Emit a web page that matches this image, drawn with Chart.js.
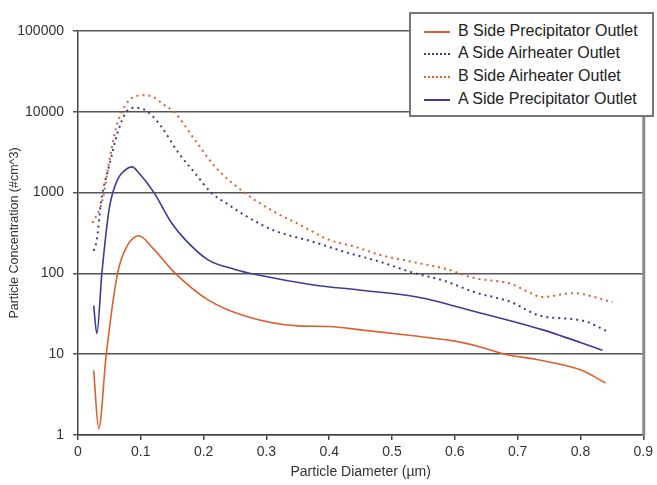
<!DOCTYPE html>
<html>
<head>
<meta charset="utf-8">
<script src="https://cdn.jsdelivr.net/npm/chart.js@4.4.1/dist/chart.umd.min.js"></script>
<style>
  html, body { margin: 0; padding: 0; background: #fff; }
  #wrap { position: relative; width: 657px; height: 485px; }
  #legend { position: absolute; left: 409px; top: 12px; width: 241px; height: 101px; border: 2px solid #777; background: #fff; font-family: "Liberation Sans", Arial, sans-serif; font-size: 16px; color: #222; box-sizing: content-box; }
  .row { position: absolute; left: 0; height: 20px; line-height: 20px; white-space: nowrap; }
  .sample { position: absolute; left: 13px; top: 10px; width: 26px; height: 0; }
  .label { position: absolute; left: 47px; top: 0; }
</style>
</head>
<body>
<div id="wrap">
  <canvas id="c" width="657" height="485"></canvas>
  <div id="legend"></div>
</div>
<script>
// ---- data ----
const seriesNames = ["B Side Precipitator Outlet", "A Side Airheater Outlet", "B Side Airheater Outlet", "A Side Precipitator Outlet"];

const bPrecipX = [0.025, 0.033, 0.045, 0.063, 0.077, 0.097, 0.118, 0.155, 0.207, 0.27, 0.35, 0.40, 0.45, 0.53, 0.60, 0.635, 0.68, 0.73, 0.80, 0.84];
const bPrecipY = [6.3, 1.2, 10, 100, 210, 292, 210, 100, 47, 29, 22.4, 22, 20, 17, 14.5, 12.6, 10, 8.6, 6.4, 4.4];

const aAirX = [0.025, 0.03, 0.037, 0.05, 0.063, 0.077, 0.09, 0.105, 0.12, 0.133, 0.16, 0.186, 0.212, 0.238, 0.28, 0.312, 0.375, 0.426, 0.48, 0.53, 0.585, 0.63, 0.69, 0.735, 0.804, 0.846];
const aAirY = [190, 260, 800, 2200, 5500, 10000, 11200, 10700, 8600, 6500, 3100, 1750, 1000, 720, 450, 340, 245, 183, 140, 104, 80, 59, 44, 30, 26, 18.6];

const bAirX = [0.023, 0.039, 0.05, 0.061, 0.07, 0.082, 0.102, 0.118, 0.135, 0.155, 0.186, 0.218, 0.265, 0.312, 0.348, 0.40, 0.44, 0.48, 0.53, 0.585, 0.63, 0.69, 0.715, 0.74, 0.788, 0.851];
const bAirY = [420, 810, 2500, 6500, 10000, 14000, 16000, 15500, 12500, 9600, 4500, 2100, 1000, 580, 420, 260, 215, 170, 140, 114, 88, 74, 60, 51, 57, 44];

const aPrecipX = [0.025, 0.03, 0.038, 0.05, 0.063, 0.075, 0.086, 0.097, 0.121, 0.149, 0.171, 0.207, 0.25, 0.285, 0.375, 0.45, 0.54, 0.63, 0.74, 0.835];
const aPrecipY = [40, 18, 100, 650, 1450, 1900, 2080, 1750, 1000, 420, 260, 147, 112, 96, 72, 62, 51, 34, 20, 11.2];

const xTicks = [0, 0.1, 0.2, 0.3, 0.4, 0.5, 0.6, 0.7, 0.8, 0.9];
const yTicks = [1, 10, 100, 1000, 10000, 100000];

// ---- style ----
const ORANGE = "#dc5f2e";
const NAVY = "#3c3c98";
const FONT = "'Liberation Sans', Arial, sans-serif";

function pts(xs, ys) { return xs.map((x, i) => ({ x: x, y: ys[i] })); }

const datasets = [
  { label: seriesNames[0], data: pts(bPrecipX, bPrecipY), borderColor: ORANGE, borderWidth: 1.6, borderDash: [] },
  { label: seriesNames[1], data: pts(aAirX, aAirY), borderColor: NAVY, borderWidth: 2, borderDash: [2, 4] },
  { label: seriesNames[2], data: pts(bAirX, bAirY), borderColor: ORANGE, borderWidth: 2, borderDash: [2, 4] },
  { label: seriesNames[3], data: pts(aPrecipX, aPrecipY), borderColor: NAVY, borderWidth: 1.6, borderDash: [] }
].map(d => Object.assign(d, { pointRadius: 0, tension: 0.4, cubicInterpolationMode: "monotone", fill: false }));

const frame = {
  id: "frame",
  afterDraw(chart) {
    const a = chart.chartArea, c = chart.ctx;
    c.save();
    c.strokeStyle = "#8a8a8a";
    c.lineWidth = 3;
    c.beginPath(); c.moveTo(a.right + 0.5, a.top - 1); c.lineTo(a.right + 0.5, a.bottom + 1); c.stroke();
    c.restore();
  }
};

new Chart(document.getElementById("c"), {
  type: "line",
  data: { datasets: datasets },
  options: {
    responsive: false,
    animation: false,
    layout: { padding: { top: 31, right: 5, left: 0, bottom: 0 } },
    plugins: { legend: { display: false }, tooltip: { enabled: false } },
    scales: {
      x: {
        type: "linear", min: 0, max: 0.9,
        afterBuildTicks: s => { s.ticks = xTicks.map(v => ({ value: v })); },
        afterFit: s => { s.height = 50; },
        ticks: { font: { family: FONT, size: 14 }, color: "#333", padding: 4, maxRotation: 0, callback: v => String(Math.round(v * 10) / 10) },
        grid: { drawOnChartArea: false, drawTicks: true, tickLength: 5, color: "#444", lineWidth: 1.5 },
        border: { color: "#444", width: 1.5 },
        title: { display: true, text: "Particle Diameter (\u00b5m)", font: { family: FONT, size: 14 }, color: "#333", padding: { top: 0, bottom: 4 } }
      },
      y: {
        type: "logarithmic", min: 1, max: 100000,
        afterBuildTicks: s => { s.ticks = yTicks.map(v => ({ value: v })); },
        afterFit: s => { s.width = 78; },
        ticks: { font: { family: FONT, size: 14 }, color: "#333", padding: 9, callback: v => String(v) },
        grid: { color: "#555", lineWidth: 1.5, drawTicks: true, tickLength: 5 },
        border: { color: "#444", width: 1.5 },
        title: { display: true, text: "Particle Concentration (#cm^3)", font: { family: FONT, size: 12.5 }, color: "#333", padding: { top: 7, bottom: 0 } }
      }
    }
  },
  plugins: [frame]
});

// HTML legend
const legend = document.getElementById("legend");
const rowTops = [7, 29, 52, 75];
datasets.forEach((d, i) => {
  const row = document.createElement("div");
  row.className = "row";
  row.style.top = rowTops[i] + "px";
  const s = document.createElement("div");
  s.className = "sample";
  s.style.borderTop = (d.borderDash.length ? "2px dotted " : "2px solid ") + d.borderColor;
  const l = document.createElement("div");
  l.className = "label";
  l.textContent = d.label;
  row.appendChild(s); row.appendChild(l);
  legend.appendChild(row);
});
</script>
</body>
</html>
